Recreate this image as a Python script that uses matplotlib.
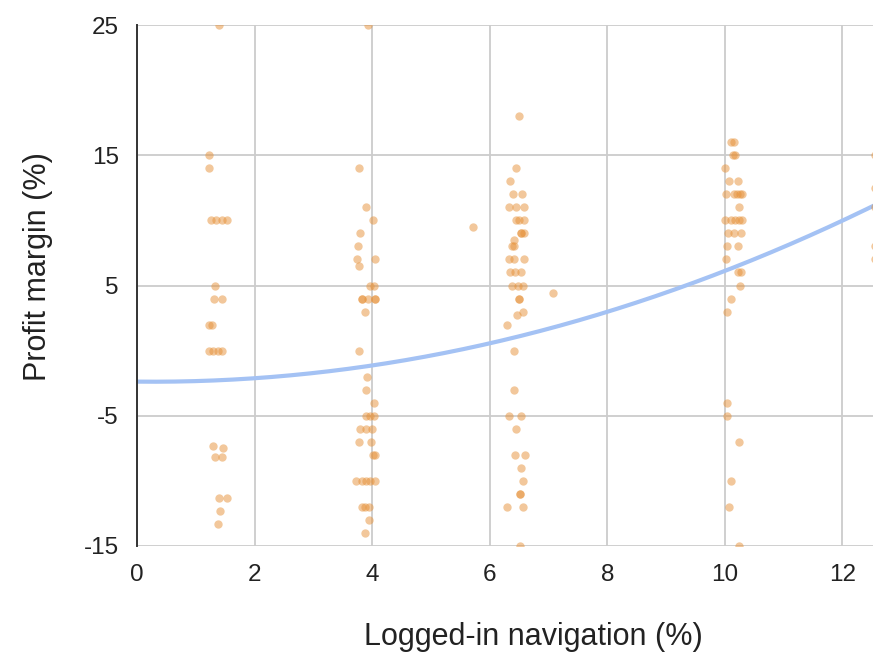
import numpy as np
import matplotlib
matplotlib.use("Agg")
from matplotlib import pyplot as plt

plt.rcParams['font.family'] = ['Liberation Sans', 'DejaVu Sans']
plt.rcParams['axes.unicode_minus'] = False

# logged-in navigation (%) / profit margin (%)
nav_1 = [1.39, 1.22, 1.23, 1.26, 1.35, 1.44, 1.53, 1.32, 1.31, 1.44, 1.23, 1.27,
         1.22, 1.30, 1.38, 1.45, 1.30, 1.47, 1.33, 1.45, 1.40, 1.53, 1.42, 1.38]
margin_1 = [25, 15, 14, 10, 10, 10, 10, 5, 4, 4, 2, 2,
            0, 0, 0, 0, -7.3, -7.5, -8.2, -8.2, -11.3, -11.3, -12.3, -13.3]

nav_2 = [3.93, 3.78, 3.90, 4.02, 3.80, 3.76, 3.75, 3.78, 4.05, 3.96, 4.04, 3.83,
         3.83, 3.93, 4.05, 4.05, 3.87, 3.78, 3.91, 3.90, 4.03, 3.90, 3.97, 4.03,
         3.80, 3.90, 4.00, 3.78, 3.98, 4.01, 4.05, 3.73, 3.82, 3.90, 3.97, 4.05,
         3.82, 3.88, 3.95, 3.95, 3.88]
margin_2 = [25, 14, 11, 10, 9, 8, 7, 6.5, 7, 5, 5, 4,
            4, 4, 4, 4, 3, 0, -2, -3, -4, -5, -5, -5,
            -6, -6, -6, -7, -7, -8, -8, -10, -10, -10, -10, -10,
            -12, -12, -12, -13, -14]

nav_3 = [6.49, 6.44, 6.35, 6.39, 6.55, 6.32, 6.44, 6.58, 6.44, 6.50, 6.59, 6.53,
         6.59, 6.53, 6.41, 6.38, 6.41, 6.32, 6.41, 6.59, 6.35, 6.43, 6.54, 6.38,
         6.48, 6.56, 6.49, 6.49, 6.47, 6.57, 6.30, 6.41, 6.41, 6.33, 6.53, 6.44,
         6.43, 6.60, 6.53, 6.56, 6.51, 6.51, 6.30, 6.56, 6.52, 5.71, 7.08]
margin_3 = [18, 14, 13, 12, 12, 11, 11, 11, 10, 10, 10, 9,
            9, 9, 8.5, 8, 8, 7, 7, 7, 6, 6, 6, 5,
            5, 5, 4, 4, 2.7, 3, 2, 0, -3, -5, -5, -6,
            -8, -8, -9, -10, -11, -11, -12, -12, -15, 9.5, 4.4]

nav_4 = [10.11, 10.15, 10.14, 10.18, 10.00, 10.07, 10.23, 10.02, 10.15, 10.20, 10.26,
         10.30, 10.24, 10.01, 10.10, 10.17, 10.24, 10.30, 10.06, 10.15, 10.27, 10.04,
         10.23, 10.02, 10.23, 10.27, 10.26, 10.10, 10.03, 10.03, 10.03, 10.24, 10.11,
         10.07, 10.24]
margin_4 = [16, 16, 15, 15, 14, 13, 13, 12, 12, 12, 12,
            12, 11, 10, 10, 10, 10, 10, 9, 9, 9, 8,
            8, 7, 6, 6, 5, 4, 3, -4, -5, -7, -10,
            -12, -15]

nav_5 = [12.56, 12.56, 12.56, 12.56, 12.56, 12.63, 12.63, 12.63]
margin_5 = [15, 12.5, 11, 8, 7, 20.5, 1.5, -6]

# quadratic trendline coefficients (c0 + c1*x + c2*x^2)
trend_coef = [-2.38, -0.05, 0.09]

nav = np.array(nav_1 + nav_2 + nav_3 + nav_4 + nav_5)
margin = np.array(margin_1 + margin_2 + margin_3 + margin_4 + margin_5)

fig = plt.figure(figsize=(8.73, 6.54), dpi=100)
ax = fig.add_axes([137 / 873, 1 - 546 / 654, 1 - 137 / 873, 521 / 654])

ax.scatter(nav, margin, s=36, color='#e69138', alpha=0.5, linewidths=0, zorder=3)

xs = np.linspace(0, 13, 200)
ax.plot(xs, np.polyval(trend_coef[::-1], xs), color='#a4c2f4', lw=3, zorder=2,
        solid_capstyle='butt')

ax.set_xlim(0, 12.52)
ax.set_ylim(-15, 25)
ax.set_xticks(range(0, 13, 2))
ax.set_yticks([-15, -5, 5, 15, 25])

ax.grid(True, color='#cccccc', lw=1.3)
ax.set_axisbelow(True)
for s in ['top', 'right', 'bottom']:
    ax.spines[s].set_visible(False)
ax.spines['left'].set_color('#333333')
ax.spines['left'].set_linewidth(1.4)
ax.spines['left'].set_zorder(4)

ax.tick_params(length=0, labelsize=17.5, colors='#222222', pad=13)

ax.set_xlabel('Logged-in navigation (%)', fontsize=22, color='#222222', va='center')
ax.xaxis.set_label_coords(0.538, -0.175)
ax.set_ylabel('Profit margin (%)', fontsize=22, color='#222222', va='center', ha='center')
ax.yaxis.set_label_coords(-0.1345, 0.537)

fig.savefig('out.png', dpi=100)
